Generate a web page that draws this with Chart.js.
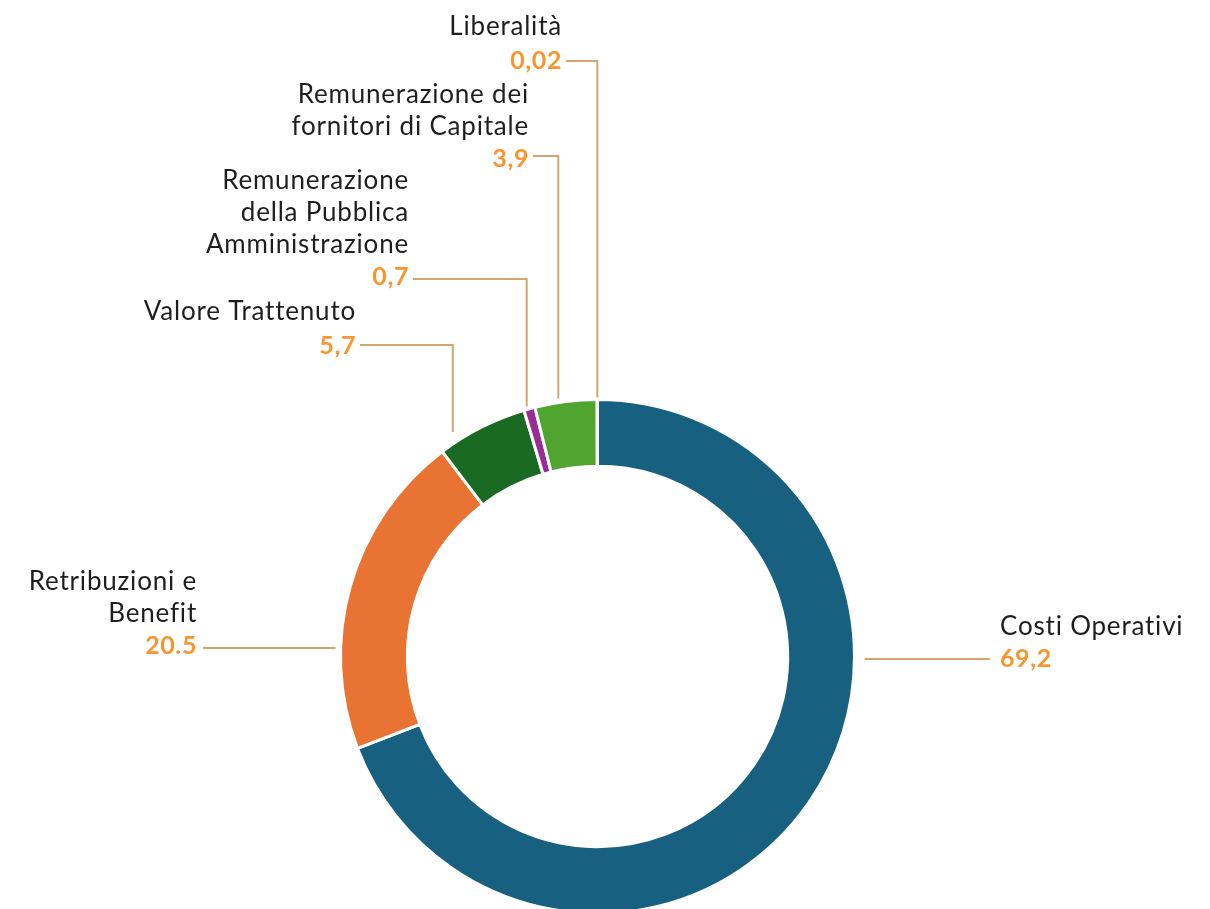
<!DOCTYPE html>
<html><head><meta charset="utf-8">
<script src="https://cdn.jsdelivr.net/npm/chart.js@4.4.1/dist/chart.umd.min.js"></script>
<style>
html,body{margin:0;padding:0;background:#fff;overflow:hidden;}
#wrap{width:1210px;height:909px;overflow:hidden;position:relative;}
</style></head>
<body><div id="wrap"><canvas id="c" width="1210" height="1000"></canvas></div>
<script>
// ---- data ----
const categories = ["Costi Operativi","Retribuzioni e Benefit","Valore Trattenuto","Remunerazione della Pubblica Amministrazione","Remunerazione dei fornitori di Capitale","Liberalità"];
const values = [69.2, 20.5, 5.7, 0.7, 3.9, 0.02];
const valueLabels = ["69,2","20.5","5,7","0,7","3,9","0,02"];
const labelLines = [["Costi Operativi"],["Retribuzioni e","Benefit"],["Valore Trattenuto"],["Remunerazione","della Pubblica","Amministrazione"],["Remunerazione dei","fornitori di Capitale"],["Liberalità"]];
const colors = ["#17607f","#e97333","#1a6a24","#9a2c96","#4fa530","#4fa530"];

// ---- layout (label placement, not data) ----
const labelLayout = [
  {align:"left",  x:1000, numY:659, lineGap:32, leader:"h", lineY:659, frac:0.0},
  {align:"right", x:197,  numY:646, lineGap:32, leader:"h", lineY:648, frac:0.0},
  {align:"right", x:356,  numY:346, lineGap:34, leader:"v", lineY:345, frac:0.14, endGap:12},
  {align:"right", x:409,  numY:277, lineGap:32, leader:"v", lineY:279, frac:0.25, endGap:3},
  {align:"right", x:529,  numY:159, lineGap:32, leader:"v", lineY:156, frac:0.38, endGap:4},
  {align:"right", x:562,  numY:61,  lineGap:34, leader:"v", lineY:61,  frac:0.5, endGap:2}
];
const LEADER = "#d4a66c", NUM = "#f7962f", TXT = "#1e1e1e";
const FONT = "Lato, 'Open Sans', sans-serif";

const labelPlugin = {
  id:"labels",
  afterDraw(chart){
    const ctx = chart.ctx;
    const meta = chart.getDatasetMeta(0);
    ctx.save();
    labelLayout.forEach((L,i)=>{
      const arc = meta.data[i];
      const cx = arc.x, cy = arc.y, R = arc.outerRadius;
      ctx.textBaseline = "middle";
      ctx.textAlign = L.align;
      // number
      ctx.font = "bold 25px " + FONT;
      ctx.letterSpacing = "0.6px";
      ctx.fillStyle = NUM;
      ctx.fillText(valueLabels[i], L.x, L.numY);
      // name lines
      ctx.font = "26px " + FONT;
      ctx.letterSpacing = "0.8px";
      ctx.fillStyle = TXT;
      const lines = labelLines[i];
      lines.forEach((t,k)=>{
        const y = L.numY - (lines.length - k) * L.lineGap;
        ctx.fillText(t, L.x, y);
      });
      ctx.letterSpacing = "0px";
      // leader
      ctx.strokeStyle = LEADER;
      ctx.lineWidth = 2;
      ctx.beginPath();
      if (L.leader === "h") {
        if (L.align === "left") {
          ctx.moveTo(cx + R + 10, L.lineY);
          ctx.lineTo(L.x - 10, L.lineY);
        } else {
          ctx.moveTo(L.x + 6, L.lineY);
          ctx.lineTo(cx - R - 5, L.lineY);
        }
      } else {
        const a = arc.startAngle + L.frac * (arc.endAngle - arc.startAngle);
        const ax = cx + R * Math.cos(a), ay = cy + R * Math.sin(a);
        ctx.moveTo(L.x + 4, L.lineY);
        ctx.lineTo(ax, L.lineY);
        ctx.lineTo(ax, ay - L.endGap);
      }
      ctx.stroke();
    });
    ctx.restore();
  }
};

new Chart(document.getElementById("c"), {
  type:"doughnut",
  data:{ labels:categories, datasets:[{ data:values, backgroundColor:colors, borderColor:"#ffffff", borderWidth:3, hoverBorderWidth:3 }]},
  options:{
    responsive:false, animation:false, cutout:"74%",
    layout:{ padding:{ top:398, bottom:85, left:339, right:354 } },
    plugins:{ legend:{display:false}, tooltip:{enabled:false} },
    events:[]
  },
  plugins:[labelPlugin]
});
</script></body></html>
